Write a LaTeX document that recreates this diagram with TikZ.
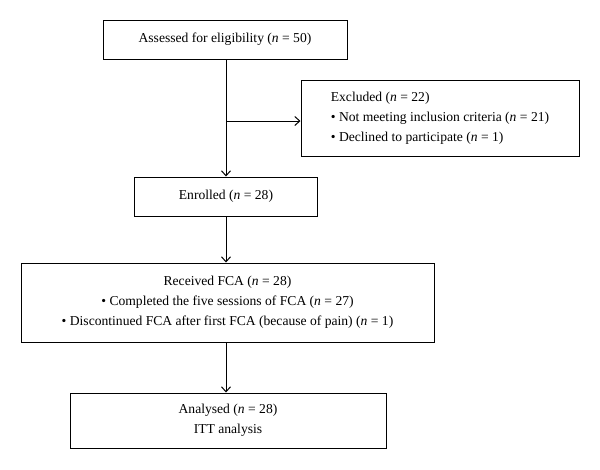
\documentclass[tikz,border=0pt]{standalone}
\usepackage{fontspec}
\setmainfont{Liberation Serif}
\usetikzlibrary{arrows.meta}

\begin{document}
\begin{tikzpicture}[x=1pt,y=-1pt,
  flowbox/.style={draw,line width=1pt,inner sep=0pt,align=center,
    font=\fontsize{13.6}{20}\selectfont},
  >={Straight Barb[length=5pt,width=9pt]}]
\useasboundingbox (0,0) rectangle (600,469);
\node[flowbox,minimum width=244pt,minimum height=39pt] (assess) at (225,39.5)
  {Assessed for eligibility (\textit{n} = 50)};
\node[flowbox,align=left,minimum width=278pt,minimum height=76pt] (excl) at (440,118)
  {Excluded (\textit{n} = 22)\\
   • Not meeting inclusion criteria (\textit{n} = 21)\\
   • Declined to participate (\textit{n} = 1)};
\node[flowbox,minimum width=183pt,minimum height=39pt] (enrol) at (226,196.5)
  {Enrolled (\textit{n} = 28)};
\node[flowbox,minimum width=413pt,minimum height=79pt] (recv) at (227.5,302.5)
  {Received FCA (\textit{n} = 28)\\
   • Completed the five sessions of FCA (\textit{n} = 27)\\
   • Discontinued FCA after first FCA (because of pain) (\textit{n} = 1)};
\node[flowbox,minimum width=316pt,minimum height=55pt] (anal) at (228,420.5)
  {Analysed (\textit{n} = 28)\\ITT analysis};
% connectors
\coordinate (split) at (226,121);
\begin{scope}[every path/.style={line width=1pt}]
\draw[->] (226,0 |- assess.south) -- (226,0 |- enrol.north);
\draw[->] (split) -- (split -| excl.west);
\draw[->] (226,0 |- enrol.south) -- (226,0 |- recv.north);
\draw[->] (226,0 |- recv.south) -- (226,0 |- anal.north);
\end{scope}
\end{tikzpicture}
\end{document}
